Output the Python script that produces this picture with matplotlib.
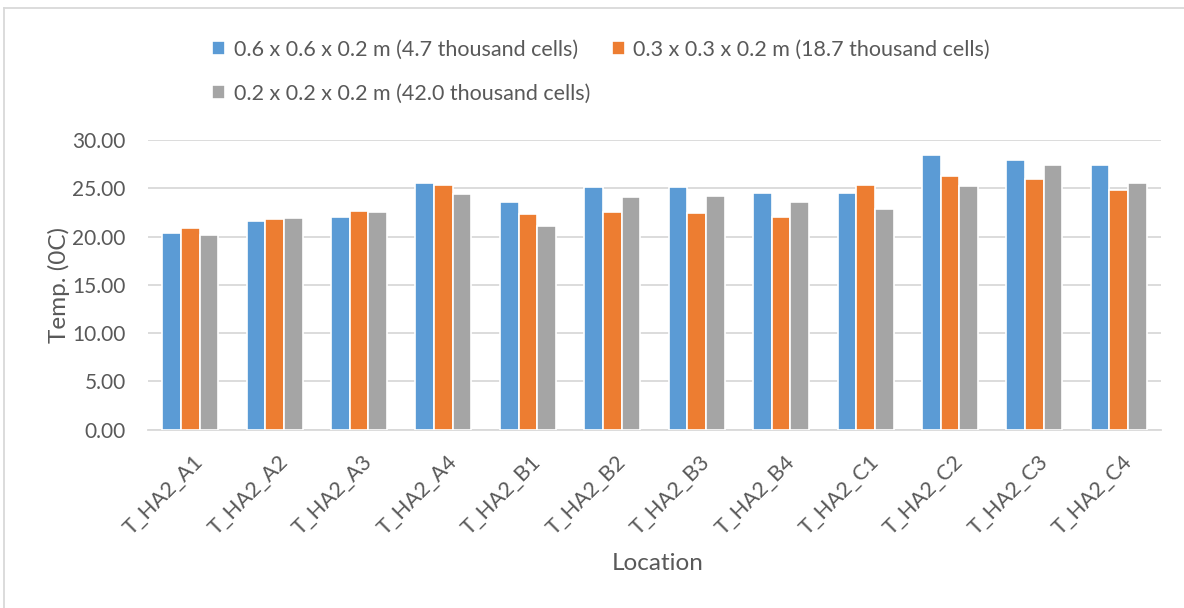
import matplotlib
matplotlib.use("Agg")
import matplotlib.pyplot as plt
import matplotlib.transforms as mtransforms
import numpy as np
from matplotlib.lines import Line2D

locations = ["T_HA2_A1", "T_HA2_A2", "T_HA2_A3", "T_HA2_A4",
             "T_HA2_B1", "T_HA2_B2", "T_HA2_B3", "T_HA2_B4",
             "T_HA2_C1", "T_HA2_C2", "T_HA2_C3", "T_HA2_C4"]

mesh_coarse = [20.34, 21.65, 22.03, 25.58, 23.58, 25.17, 25.17, 24.55, 24.48, 28.48, 27.96, 27.44]
mesh_medium = [20.85, 21.79, 22.68, 25.30, 22.37, 22.51, 22.41, 21.99, 25.30, 26.30, 25.92, 24.79]
mesh_fine = [20.20, 21.89, 22.58, 24.44, 21.06, 24.06, 24.16, 23.54, 22.86, 25.20, 27.44, 25.58]

series_labels = ["0.6 x 0.6 x 0.2 m (4.7 thousand cells)",
                 "0.3 x 0.3 x 0.2 m (18.7 thousand cells)",
                 "0.2 x 0.2 x 0.2 m (42.0 thousand cells)"]
series_colors = ["#5b9bd5", "#ed7d31", "#a5a5a5"]

plt.rcParams["font.family"] = ["Lato", "DejaVu Sans"]
text_color = "#595959"

W, H = 1184, 608
fig = plt.figure(figsize=(W / 100, H / 100), dpi=100)
fig.patch.set_facecolor("white")

ax_l, ax_r, ax_t, ax_b = 148, 1161, 140, 429.6
ax = fig.add_axes([ax_l / W, 1 - ax_b / H, (ax_r - ax_l) / W, (ax_b - ax_t) / H])

x = np.arange(len(locations))
step = 0.221
handles = []
for i, (vals, lab, col) in enumerate(zip([mesh_coarse, mesh_medium, mesh_fine],
                                          series_labels, series_colors)):
    b = ax.bar(x + (i - 1) * step, vals, width=step, color=col,
               edgecolor="white", linewidth=1.2, label=lab, zorder=3)
    handles.append(b)

ax.set_xlim(-0.5, len(locations) - 0.5)
ax.set_ylim(0, 30)
ax.set_yticks(np.arange(0, 31, 5))
ax.set_yticklabels([f"{v:.2f}" for v in np.arange(0, 31, 5)])
ax.yaxis.grid(True, color="#d9d9d9", linewidth=1.3, zorder=0)
ax.set_axisbelow(True)
for s in ["top", "right", "left"]:
    ax.spines[s].set_visible(False)
ax.spines["bottom"].set_color("#d9d9d9")
ax.spines["bottom"].set_linewidth(1.3)
ax.tick_params(axis="both", length=0, colors=text_color)
ax.tick_params(axis="y", pad=16, labelsize=15)
ax.set_xticks(x)
ax.set_xticklabels(locations, rotation=45, ha="right", rotation_mode="anchor")
ax.tick_params(axis="x", pad=16, labelsize=15.5)
shift = mtransforms.ScaledTranslation(3 / 100, 0, fig.dpi_scale_trans)
for lbl in ax.get_xticklabels():
    lbl.set_transform(lbl.get_transform() + shift)

ax.set_ylabel("Temp. (0C)", fontsize=17.5, color=text_color, labelpad=2)
fig.text(658 / W, 1 - 563 / H, "Location", fontsize=17.5, color=text_color,
         ha="center", va="center")

# legend: row-wise ordering across two columns
order = [0, 2, 1]
leg = fig.legend([handles[k] for k in order], [series_labels[k] for k in order],
                 ncol=2, loc="upper left", bbox_to_anchor=(193 / W, 1 - 20 / H),
                 frameon=False, fontsize=15.5, labelcolor=text_color,
                 handlelength=0.6, handleheight=0.6, handletextpad=0.4,
                 columnspacing=1.0, labelspacing=1.14)

# chart outline
fig.add_artist(Line2D([4 / W, 4 / W], [0, 1 - 8 / H], transform=fig.transFigure,
                      color="#d9d9d9", linewidth=1.3))
fig.add_artist(Line2D([4 / W, 1], [1 - 8 / H, 1 - 8 / H], transform=fig.transFigure,
                      color="#d9d9d9", linewidth=1.3))

fig.savefig("out.png", dpi=100, facecolor="white")
